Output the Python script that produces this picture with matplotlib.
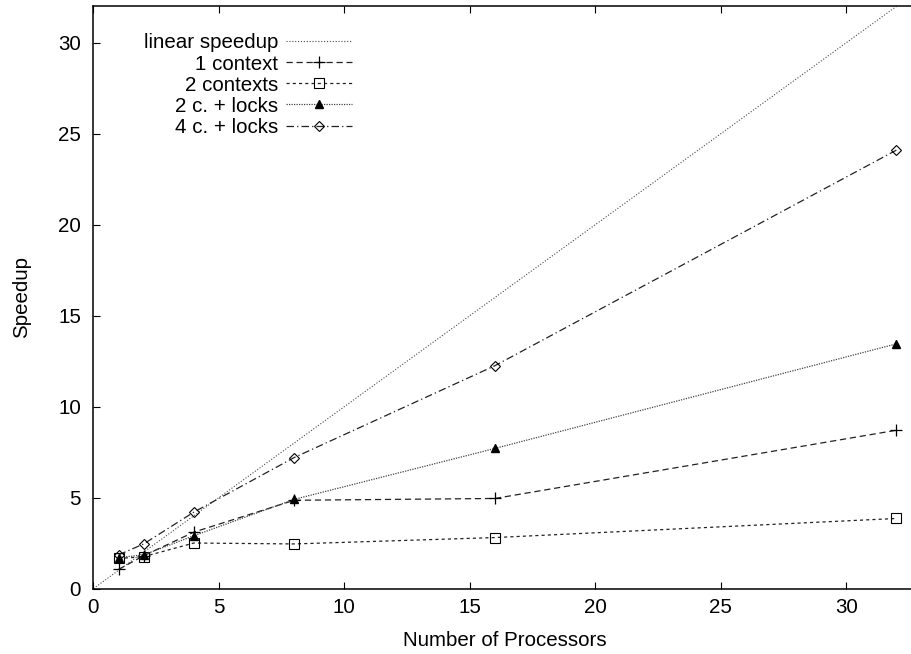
import matplotlib
matplotlib.use("Agg")
import matplotlib.pyplot as plt

plt.rcParams['font.family'] = ['Liberation Sans', 'DejaVu Sans']

# ---- data ----
procs = [1, 2, 4, 8, 16, 32]
linear_x = [0, 32]
linear_y = [0, 32]
one_context = [1.05, 1.8, 3.1, 4.85, 4.95, 8.7]
two_contexts = [1.65, 1.75, 2.5, 2.45, 2.8, 3.85]
two_c_locks = [1.7, 1.85, 2.9, 4.9, 7.7, 13.45]
four_c_locks = [1.85, 2.45, 4.2, 7.2, 12.25, 24.1]
labels = ["linear speedup", "1 context", "2 contexts", "2 c. + locks", "4 c. + locks"]
xticks = [0, 5, 10, 15, 20, 25, 30]
yticks = [0, 5, 10, 15, 20, 25, 30]

FS = 14.8
W, H = 912, 654
fig = plt.figure(figsize=(W / 100, H / 100), dpi=100)
left_px, bottom_px = 93.5, 588.5
xunit, yunit = 25.09, 18.19
ax = fig.add_axes([left_px / W, 1 - bottom_px / H, 33 * xunit / W, 32 * yunit / H])

lw = 0.9
h0, = ax.plot(linear_x, linear_y, color='#4a4a4a', lw=0.8, linestyle=(0, (1, 1.6)))
h1, = ax.plot(procs, one_context, color='#222222', lw=lw, linestyle=(0, (5, 3)),
              marker='+', markersize=8, markeredgewidth=0.9, markeredgecolor='black')
h2, = ax.plot(procs, two_contexts, color='#222222', lw=lw, linestyle=(0, (2.5, 2.5)),
              marker='s', markersize=6.8, markerfacecolor='none', markeredgewidth=0.8,
              markeredgecolor='black')
h3, = ax.plot(procs, two_c_locks, color='#444444', lw=lw, linestyle=(0, (1, 1)),
              marker='^', markersize=6, markerfacecolor='black', markeredgecolor='black')
h4, = ax.plot(procs, four_c_locks, color='#222222', lw=lw, linestyle=(0, (6, 2.5, 1, 2.5)),
              marker='D', markersize=4.8, markerfacecolor='none', markeredgewidth=0.8,
              markeredgecolor='black')

ax.set_xlim(0, 33)
ax.set_ylim(0, 32)
ax.set_xticks(xticks)
ax.set_yticks(yticks)
ax.tick_params(direction='in', length=5, width=0.8, top=True, right=True,
               labelsize=FS, color='black')
ax.tick_params(axis='x', pad=7)
ax.tick_params(axis='y', pad=9)
for s in ax.spines.values():
    s.set_linewidth(1.1)

ax.set_xlabel("Number of Processors", fontsize=FS)
ax.set_ylabel("Speedup", fontsize=FS)
axw = 33 * xunit
axh = 32 * yunit
ax.xaxis.set_label_coords((505 - left_px) / axw, (bottom_px - 631) / axh)
ax.yaxis.set_label_coords((31 - left_px) / axw, 0.5)

leg = ax.legend([h0, h1, h2, h3, h4], labels, loc='upper right',
                bbox_to_anchor=(352 / W, 1 - 33.5 / H), bbox_transform=fig.transFigure,
                frameon=False, markerfirst=False, handlelength=3.2, handletextpad=0.4,
                labelspacing=0.1, borderpad=0, borderaxespad=0, fontsize=FS)

fig.savefig("out.png", dpi=100)
